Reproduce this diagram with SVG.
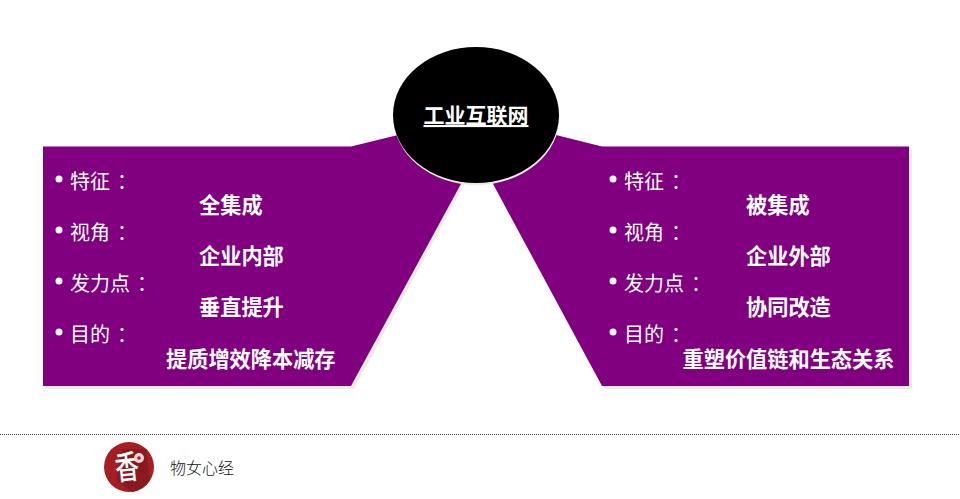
<svg xmlns="http://www.w3.org/2000/svg" width="960" height="499" viewBox="0 0 960 499">
<style>
text{font-family:"Noto Sans CJK SC","Noto Sans",sans-serif;fill:#fff}
.l{font-size:20px}
.c{font-family:"Noto Sans CJK TC","Noto Sans",sans-serif}
.b{font-size:21.200px;font-weight:700}
.p{fill:#800080}
.s{fill:#eeece1}
</style>
<rect width="960" height="499" fill="#fff"/>
<g id="panel-left">
<path class="s" d="M46 150H353L398 139L465 183L354 389H46Z"/>
<path class="p" d="M43 146.500H351L398 135L462 182L351 386H43Z"/>
<circle cx="59" cy="179" r="3.500" fill="#fff"/><text class="l" x="70" y="189">特征<tspan class="c" dx="2" dy="1">：</tspan></text>
<text class="b" x="199" y="213">全集成</text>
<circle cx="59" cy="230" r="3.500" fill="#fff"/><text class="l" x="70" y="240">视角<tspan class="c" dx="2" dy="1">：</tspan></text>
<text class="b" x="199" y="264">企业内部</text>
<circle cx="59" cy="281" r="3.500" fill="#fff"/><text class="l" x="70" y="291">发力点<tspan class="c" dx="2" dy="1">：</tspan></text>
<text class="b" x="199" y="315">垂直提升</text>
<circle cx="59" cy="332" r="3.500" fill="#fff"/><text class="l" x="70" y="342">目的<tspan class="c" dx="2" dy="1">：</tspan></text>
<text class="b" x="166" y="367">提质增效降本减存</text>
</g>
<g id="panel-right">
<path class="s" d="M560 139L604 150H912V389H605L495 183Z"/>
<path class="p" d="M556 135L602 146.500H909V386H602L492 182Z"/>
<circle cx="613" cy="179" r="3.500" fill="#fff"/><text class="l" x="624" y="189">特征<tspan class="c" dx="2" dy="1">：</tspan></text>
<text class="b" x="746" y="213">被集成</text>
<circle cx="613" cy="230" r="3.500" fill="#fff"/><text class="l" x="624" y="240">视角<tspan class="c" dx="2" dy="1">：</tspan></text>
<text class="b" x="746" y="264">企业外部</text>
<circle cx="613" cy="281" r="3.500" fill="#fff"/><text class="l" x="624" y="291">发力点<tspan class="c" dx="2" dy="1">：</tspan></text>
<text class="b" x="746" y="315">协同改造</text>
<circle cx="613" cy="332" r="3.500" fill="#fff"/><text class="l" x="624" y="342">目的<tspan class="c" dx="2" dy="1">：</tspan></text>
<text class="b" x="682.500" y="367">重塑价值链和生态关系</text>
</g>
<g id="hub">
<ellipse cx="476.500" cy="117" rx="83" ry="68" fill="#eeece1"/>
<ellipse cx="476" cy="115" rx="83" ry="68" fill="#000"/>
<text x="476" y="123" font-size="21" font-weight="700" text-anchor="middle" text-decoration="underline">工业互联网</text>
</g>
<g id="footer">
<line x1="0" y1="434.500" x2="960" y2="434.500" stroke="#444" stroke-width="1" stroke-dasharray="1 1"/>
<circle cx="129" cy="467" r="25" fill="#a51e22"/>
<path d="M122 449L146 449L150 480A25 25 0 0 1 132 492L116 480Z" fill="#8a1a1f"/>
<text font-size="30" font-weight="500" text-anchor="middle" transform="translate(127 467) rotate(-6) scale(.8 1.1)" y="11">香</text>
<circle cx="139" cy="458" r="5" fill="#edd5d5"/>
<circle cx="139" cy="458" r="1.800" fill="#a51e22"/>
<text x="170" y="474" font-size="16" font-weight="300" style="fill:#111">物女心经</text>
</g>
</svg>
